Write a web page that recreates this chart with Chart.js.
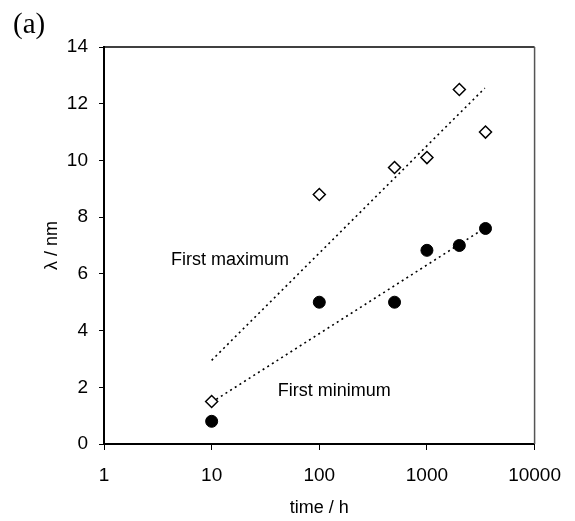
<!DOCTYPE html>
<html><head><meta charset="utf-8">
<script src="https://cdn.jsdelivr.net/npm/chart.js@4/dist/chart.umd.min.js"></script>
<style>html,body{margin:0;padding:0;background:#fff}</style>
</head><body>
<canvas id="c" width="575" height="521" style="display:block;width:575px;height:521px"></canvas>
<script>
// ---- data ----
const timesMax = [10, 100, 500, 1000, 2000, 3500];
const lambdaMax = [1.5, 8.8, 9.75, 10.1, 12.5, 11.0];
const timesMin = [10, 100, 500, 1000, 2000, 3500];
const lambdaMin = [0.8, 5.0, 5.0, 6.83, 7.0, 7.6];
const trendMaxX = [10, 3450];
const trendMaxY = [2.95, 12.55];
const trendMinX = [10, 3500];
const trendMinY = [1.47, 7.63];
const xTickValues = [1, 10, 100, 1000, 10000];
const yTickValues = [0, 2, 4, 6, 8, 10, 12, 14];
const noteTexts = ['First maximum', 'First minimum'];
const noteX = [14.8, 138];
const noteY = [6.32, 1.7];
const panelLabel = '(a)';
const xTitle = 'time / h';
const yTitle = 'λ / nm';

const pts = (xs, ys) => xs.map((x, i) => ({x: x, y: ys[i]}));
const SANS = '"Liberation Sans", Arial, sans-serif';

const textPlugin = {
  id: 'texts',
  afterDatasetsDraw(chart) {
    const ctx = chart.ctx, xs = chart.scales.x, ys = chart.scales.y, a = chart.chartArea;
    ctx.save();
    // frame top/right
    ctx.strokeStyle = '#000'; ctx.lineWidth = 1.5;
    ctx.beginPath(); ctx.moveTo(a.left, a.top); ctx.lineTo(a.right, a.top); ctx.stroke();
    ctx.strokeStyle = '#555'; ctx.lineWidth = 1.5;
    ctx.beginPath(); ctx.moveTo(a.right, a.top); ctx.lineTo(a.right, a.bottom); ctx.stroke();
    ctx.fillStyle = '#000';
    ctx.font = '18px ' + SANS;
    ctx.textAlign = 'center'; ctx.textBaseline = 'alphabetic';
    noteTexts.forEach((t, i) => {
      ctx.fillText(t, xs.getPixelForValue(noteX[i]), ys.getPixelForValue(noteY[i]));
    });
    ctx.font = '29px "Liberation Serif", "Times New Roman", serif';
    ctx.textAlign = 'left'; ctx.textBaseline = 'alphabetic';
    ctx.fillText(panelLabel, 13, 33);
    ctx.restore();
  }
};

new Chart(document.getElementById('c'), {
  type: 'scatter',
  data: {
    datasets: [
      {
        label: 'First maximum',
        data: pts(timesMax, lambdaMax),
        pointStyle: 'rectRot', pointRadius: 6, pointHoverRadius: 6,
        backgroundColor: '#fff', borderColor: '#000', borderWidth: 1.5,
        order: 0
      },
      {
        label: 'First minimum',
        data: pts(timesMin, lambdaMin),
        pointStyle: 'circle', pointRadius: 6, pointHoverRadius: 6,
        backgroundColor: '#000', borderColor: '#000', borderWidth: 1,
        order: 0
      },
      {
        label: 'trend max',
        data: pts(trendMaxX, trendMaxY),
        showLine: true, pointRadius: 0, borderColor: '#000', borderWidth: 1.6,
        borderDash: [2, 3.5], fill: false, order: 2
      },
      {
        label: 'trend min',
        data: pts(trendMinX, trendMinY),
        showLine: true, pointRadius: 0, borderColor: '#000', borderWidth: 1.6,
        borderDash: [2, 3.5], fill: false, order: 2
      }
    ]
  },
  options: {
    responsive: false,
    animation: false,
    devicePixelRatio: 1,
    layout: { padding: { left: 0, right: 35, top: 47, bottom: 0 } },
    plugins: { legend: { display: false }, tooltip: { enabled: false }, title: { display: false } },
    scales: {
      x: {
        type: 'logarithmic', position: 'bottom', min: 1, max: 10000,
        afterBuildTicks: s => { s.ticks = xTickValues.map(v => ({ value: v })); },
        afterFit: s => { s.height = 77; },
        ticks: {
          font: { family: SANS, size: 19 }, color: '#000', padding: 14,
          maxRotation: 0, autoSkip: false,
          callback: v => String(v)
        },
        grid: { drawOnChartArea: false, drawTicks: true, tickLength: 6, color: '#000', lineWidth: 1 },
        border: { display: true, color: '#000', width: 2 },
        title: { display: true, text: xTitle, color: '#000', font: { family: SANS, size: 18 }, padding: { top: 0, bottom: 2 } }
      },
      y: {
        type: 'linear', position: 'left', min: 0, max: 14,
        afterBuildTicks: s => { s.ticks = yTickValues.map(v => ({ value: v })); },
        afterFit: s => { s.width = 104; },
        ticks: { font: { family: SANS, size: 19 }, color: '#000', padding: 11, callback: v => String(v) },
        grid: { drawOnChartArea: false, drawTicks: true, tickLength: 5, color: '#000', lineWidth: 1 },
        border: { display: true, color: '#000', width: 2 },
        title: { display: true, text: yTitle, color: '#000', font: { family: SANS, size: 18 }, padding: { top: 41, bottom: 0 } }
      }
    }
  },
  plugins: [textPlugin]
});
</script>
</body></html>
